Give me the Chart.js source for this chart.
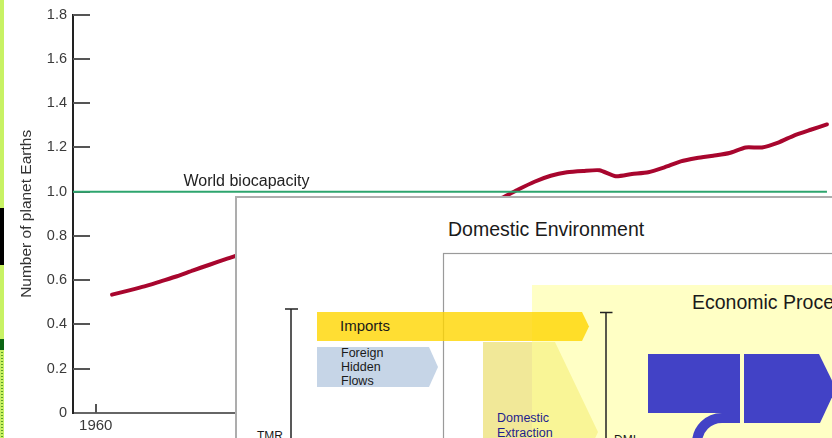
<!DOCTYPE html>
<html lang="en">
<head>
<meta charset="UTF-8">
<title>Number of planet Earths</title>
<script src="https://cdn.jsdelivr.net/npm/chart.js"></script>
<style>
  body { margin: 0; background: #fff; }
  #wrap { position: relative; width: 832px; height: 438px; overflow: hidden; }
  #chart, #overlay { position: absolute; left: 0; top: 0; }
  #overlay text { font-family: "Liberation Sans", Arial, sans-serif; fill: #1a1a1a; }
</style>
</head>
<body>
<div id="wrap">
  <canvas id="chart" width="832" height="438"></canvas>

  <!-- diagram pasted over the chart -->
  <svg id="overlay" width="832" height="438">
    <defs>
      <pattern id="dots" width="4" height="3" patternUnits="userSpaceOnUse">
        <rect width="4" height="3" fill="#c8f064"/>
        <rect x="1" y="1" width="2" height="1" fill="#5aa02a"/>
      </pattern>
    </defs>
    <!-- left edge strip -->
    <rect x="0" y="0" width="4" height="438" fill="#c8f264"/>
    <rect x="0" y="208" width="4" height="57" fill="#000"/>
    <rect x="0" y="339" width="4" height="11" fill="#0b6414"/>
    <rect x="0" y="350" width="4" height="88" fill="url(#dots)"/>

    <!-- boxes -->
    <rect x="236" y="197" width="700" height="300" fill="#fff" stroke="#adadad" stroke-width="2"/>
    <rect x="443.5" y="253.5" width="500" height="300" fill="none" stroke="#9a9a9a" stroke-width="1.2"/>
    <text x="448" y="236" font-size="19.5">Domestic Environment</text>

    <!-- domestic extraction arrow, under the economy region -->
    <polygon points="483,342 555,342 598,432 585,460 483,460" fill="#f1e898"/>
    <rect x="532" y="285" width="400" height="200" fill="rgba(255,255,150,0.55)"/>
    <text x="692" y="309" font-size="19.5">Economic Processing</text>

    <!-- imports and hidden flows -->
    <polygon points="317,312 582,312 589,326.5 582,341 317,341" fill="rgba(255,214,0,0.8)"/>
    <text x="340" y="331" font-size="15">Imports</text>
    <polygon points="317,347 429,347 438,367 429,387 317,387" fill="#c6d5e7"/>
    <text x="341" y="357" font-size="12.5">Foreign</text>
    <text x="341" y="371" font-size="12.5">Hidden</text>
    <text x="341" y="385" font-size="12.5">Flows</text>

    <text x="497" y="422" font-size="12.5" style="fill:#1e1e8e">Domestic</text>
    <text x="497" y="437" font-size="12.5" style="fill:#1e1e8e">Extraction</text>

    <!-- TMR / DMI brackets -->
    <g stroke="#222" stroke-width="1.5" fill="none">
      <line x1="291" y1="309" x2="291" y2="440"/>
      <line x1="285" y1="309" x2="298" y2="309"/>
      <line x1="606" y1="312.5" x2="606" y2="440"/>
      <line x1="600" y1="312.5" x2="612.5" y2="312.5"/>
    </g>
    <text x="257" y="440" font-size="12">TMR</text>
    <text x="614" y="444" font-size="12">DMI</text>

    <!-- economy blocks -->
    <rect x="648" y="354" width="92" height="59" fill="#4242c6"/>
    <polygon points="744,354 819,354 836,388.5 820,423 744,423" fill="#4242c6"/>
    <path d="M 740 418 L 722 418 A 25 25 0 0 0 697 443 L 697 460" stroke="#4242c6" stroke-width="10" fill="none"/>
  </svg>
</div>

<script>
  // Humanity's footprint, in number of planet Earths
  const years = [1961, 1962, 1963, 1964, 1965, 1966, 1967, 1968, 1969, 1970,
                 1971, 1972, 1973, 1974, 1975, 1976, 1977, 1978, 1979, 1980,
                 1981, 1982, 1983, 1984, 1985, 1986, 1987, 1988, 1989, 1990,
                 1991, 1992, 1993, 1994, 1995, 1996, 1997, 1998, 1999, 2000,
                 2001, 2002, 2003, 2004, 2005];
  const footprint = [0.535, 0.553, 0.572, 0.595, 0.618, 0.645, 0.670, 0.695, 0.720, 0.750,
                     0.770, 0.790, 0.830, 0.820, 0.830, 0.860, 0.880, 0.900, 0.920, 0.915,
                     0.905, 0.900, 0.915, 0.945, 0.972, 1.010, 1.045, 1.072, 1.088, 1.094,
                     1.097, 1.070, 1.080, 1.088, 1.110, 1.137, 1.152, 1.163, 1.175, 1.200,
                     1.200, 1.222, 1.255, 1.280, 1.304];

  // world biocapacity (flat line)
  const biocapYears = [1958.6, 2005];
  const biocapacity = [1.0, 1.0];

  const yTicks = [0, 0.2, 0.4, 0.6, 0.8, 1.0, 1.2, 1.4, 1.6, 1.8];
  const xTicks = [1960, 1970, 1980, 1990, 2000];

  const FONT = '"Liberation Sans", Arial, sans-serif';

  // short tick marks pointing into the plot (drawn under the lines), plus the biocapacity label
  const tickMarks = {
    id: 'tickMarks',
    beforeDatasetsDraw(chart) {
      const { ctx, scales: { x, y } } = chart;
      ctx.save();
      ctx.strokeStyle = '#555';
      ctx.lineWidth = 2;
      y.ticks.forEach(t => {
        if (t.value === 0) return;
        const py = Math.round(y.getPixelForValue(t.value));
        ctx.beginPath();
        ctx.moveTo(y.right, py);
        ctx.lineTo(y.right + 17, py);
        ctx.stroke();
      });
      x.ticks.forEach(t => {
        const px = Math.round(x.getPixelForValue(t.value));
        ctx.beginPath();
        ctx.moveTo(px, x.top);
        ctx.lineTo(px, x.top - 9);
        ctx.stroke();
      });
      ctx.fillStyle = '#222';
      ctx.font = '16px ' + FONT;
      ctx.textBaseline = 'alphabetic';
      ctx.fillText('World biocapacity', x.getPixelForValue(1965.4), y.getPixelForValue(1.0) - 6);
      ctx.restore();
    }
  };

  new Chart(document.getElementById('chart'), {
    type: 'line',
    data: {
      datasets: [{
        label: 'World biocapacity',
        data: biocapYears.map((yr, i) => ({ x: yr, y: biocapacity[i] })),
        borderColor: '#2ea56e',
        borderWidth: 2,
        pointRadius: 0
      }, {
        label: 'Ecological footprint',
        data: years.map((yr, i) => ({ x: yr, y: footprint[i] })),
        borderColor: '#a8062e',
        borderWidth: 4,
        pointRadius: 0,
        tension: 0.2,
        borderCapStyle: 'round'
      }]
    },
    options: {
      responsive: false,
      animation: false,
      layout: { padding: { top: 14, left: 0, right: 0, bottom: 0 } },
      plugins: { legend: { display: false }, tooltip: { enabled: false } },
      scales: {
        x: {
          type: 'linear',
          min: 1958.6,
          max: 2005.31,
          afterBuildTicks: s => { s.ticks = xTicks.map(v => ({ value: v })); },
          afterFit: s => { s.height = 25; },
          ticks: {
            callback: v => String(v),
            color: '#3a3a3a',
            font: { family: FONT, size: 15 },
            padding: 4,
            maxRotation: 0
          },
          grid: { display: false, drawTicks: false },
          border: { color: '#666', width: 2 }
        },
        y: {
          min: 0,
          max: 1.8,
          afterBuildTicks: s => { s.ticks = yTicks.map(v => ({ value: v })); },
          afterFit: s => { s.width = 73; },
          ticks: {
            callback: v => v === 0 ? '0' : v.toFixed(1),
            color: '#3a3a3a',
            font: { family: FONT, size: 14.5 },
            padding: 6
          },
          grid: { display: false, drawTicks: false },
          border: { color: '#222', width: 2 },
          title: {
            display: true,
            text: 'Number of planet Earths',
            color: '#333',
            font: { family: FONT, size: 15.5 },
            padding: { top: 17.5, bottom: 0 }
          }
        }
      }
    },
    plugins: [tickMarks]
  });
</script>
</body>
</html>
